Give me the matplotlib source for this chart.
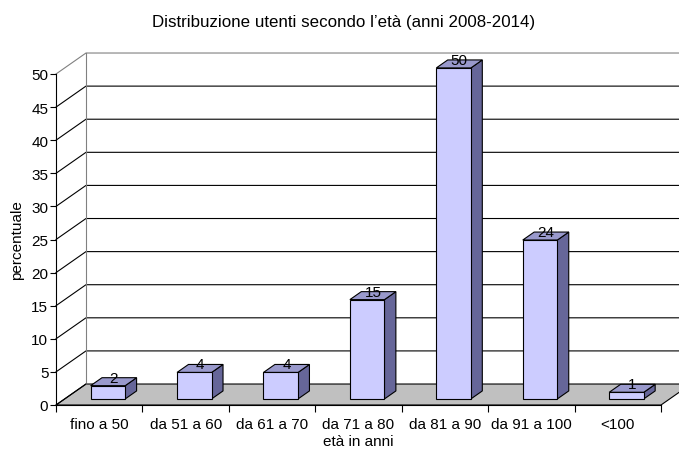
import matplotlib.pyplot as plt
from matplotlib.patches import Polygon

# age groups and share of users (%)
categories = ['fino a 50', 'da 51 a 60', 'da 61 a 70', 'da 71 a 80',
              'da 81 a 90', 'da 91 a 100', '<100']
percent = [2, 4, 4, 15, 50, 24, 1]
yticks = list(range(0, 55, 5))

plt.rcParams['font.family'] = ['Liberation Sans', 'DejaVu Sans']
fs = 11

fig = plt.figure(figsize=(6.79, 4.52), dpi=100)
ax = fig.add_axes([56/679, 46/452, 605/679, 331/452])
n = len(categories)
ax.set_xlim(0, n)
ax.set_ylim(0, 50)

# pseudo-3d depth offset of the back wall (data units)
dx = 0.347
dy = 3.17

# floor
floor = Polygon([(0, 0), (n, 0), (n + dx, dy), (dx, dy)], closed=True,
                fc='#c0c0c0', ec='black', lw=0.8, clip_on=False, zorder=1)
ax.add_patch(floor)

# back wall gridlines and side wall diagonals
for v in yticks[1:]:
    col = '#808080' if v == yticks[-1] else 'black'
    ax.plot([0, dx, n + dx], [v, v + dy, v + dy], color=col, lw=0.8,
            clip_on=False, zorder=1)
ax.plot([dx, dx], [dy, yticks[-1] + dy], color='#808080', lw=0.8,
        clip_on=False, zorder=1)
ax.plot([0, dx], [0, dy], color='black', lw=0.8, clip_on=False, zorder=2)

# bars as boxes
w = 0.40
f0 = 0.29
d = 0.38
for i, v in enumerate(percent):
    x0 = i + 0.5 - w / 2 + f0 * dx
    y0 = f0 * dy
    ox, oy = d * dx, d * dy
    front = [(x0, y0), (x0 + w, y0), (x0 + w, y0 + v), (x0, y0 + v)]
    top = [(x0, y0 + v), (x0 + w, y0 + v), (x0 + w + ox, y0 + v + oy),
           (x0 + ox, y0 + v + oy)]
    side = [(x0 + w, y0), (x0 + w + ox, y0 + oy), (x0 + w + ox, y0 + v + oy),
            (x0 + w, y0 + v)]
    for pts, c in [(side, '#666699'), (top, '#9999cc'), (front, '#ccccff')]:
        ax.add_patch(Polygon(pts, closed=True, fc=c, ec='black', lw=0.8,
                             clip_on=False, zorder=3))
    ax.text(x0 + w / 2 + ox / 2, y0 + v + oy / 2, str(v), ha='center',
            va='baseline', fontsize=fs, zorder=4)

for s in ['top', 'right']:
    ax.spines[s].set_visible(False)
ax.spines['left'].set_linewidth(0.8)
ax.spines['bottom'].set_linewidth(0.8)
ax.spines['left'].set_zorder(2)
ax.spines['bottom'].set_zorder(2)
ax.set_facecolor('none')

ax.set_yticks(yticks)
ax.tick_params(axis='y', direction='out', length=4, width=0.8,
               labelsize=fs, pad=1.5)
ax.set_xticks(range(n + 1))
ax.set_xticklabels([])
ax.set_xticks([i + 0.5 for i in range(n)], minor=True)
ax.set_xticklabels(categories, minor=True)
ax.tick_params(axis='x', which='major', direction='out', length=5, width=0.8)
ax.tick_params(axis='x', which='minor', length=0, labelsize=fs, pad=9)

fig.text(344/679, 1 - 22/452, "Distribuzione utenti secondo l’età (anni 2008-2014)",
         ha='center', va='center', fontsize=12.2)
fig.text(17/679, 1 - 240/452, 'percentuale', rotation=90,
         ha='center', va='center', fontsize=fs)
fig.text(358/679, 1 - 442/452, 'età in anni', ha='center', va='center',
         fontsize=fs)

fig.savefig('out.png', dpi=100)
